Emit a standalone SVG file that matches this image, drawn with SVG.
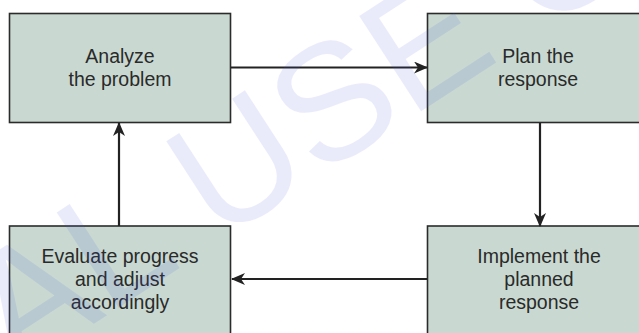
<svg xmlns="http://www.w3.org/2000/svg" width="639" height="333" viewBox="0 0 639 333">
<style>
.box{fill:#c9d9d1;stroke:#2b2b2b;stroke-width:1.6}
.lbl{font-family:"Liberation Sans",Arial,sans-serif;font-size:19.5px;fill:#2a2a2a;text-anchor:middle}
.con{stroke:#222;stroke-width:2.2;fill:none}
.wm{font-family:"Liberation Sans",Arial,sans-serif;font-size:165px;fill:#4a5ce0;fill-opacity:0.12}
</style>
<defs>
<marker id="ah" viewBox="0 0 14 12" refX="13" refY="6" markerWidth="14" markerHeight="12" markerUnits="userSpaceOnUse" orient="auto">
<path d="M0,0 L14,6 L0,12 L4,6 Z" fill="#222"/>
</marker>
</defs>
<rect width="639" height="333" fill="#fff"/>
<g id="n1"><rect class="box" x="9.5" y="13.5" width="221" height="109"/>
<text class="lbl" x="120" y="63">Analyze</text><text class="lbl" x="120" y="86">the problem</text></g>
<g id="n2"><rect class="box" x="427.5" y="13.5" width="230" height="109"/>
<text class="lbl" x="538" y="63">Plan the</text><text class="lbl" x="538" y="86">response</text></g>
<g id="n3"><rect class="box" x="427.5" y="226" width="230" height="120"/>
<text class="lbl" x="539" y="263">Implement the</text><text class="lbl" x="539" y="286">planned</text><text class="lbl" x="539" y="309">response</text></g>
<g id="n4"><rect class="box" x="9.5" y="226" width="221" height="120"/>
<text class="lbl" x="120" y="263">Evaluate progress</text><text class="lbl" x="120" y="286">and adjust</text><text class="lbl" x="120" y="309">accordingly</text></g>
<g id="connectors">
<line class="con" x1="231" y1="67.5" x2="427" y2="67.5" marker-end="url(#ah)"/>
<line class="con" x1="540" y1="123" x2="540" y2="226" marker-end="url(#ah)"/>
<line class="con" x1="427" y1="279" x2="232" y2="279" marker-end="url(#ah)"/>
<line class="con" x1="119" y1="226" x2="119" y2="123" marker-end="url(#ah)"/>
</g>
<text class="wm" transform="translate(15,375) rotate(-33)">AL USE O</text>
</svg>
